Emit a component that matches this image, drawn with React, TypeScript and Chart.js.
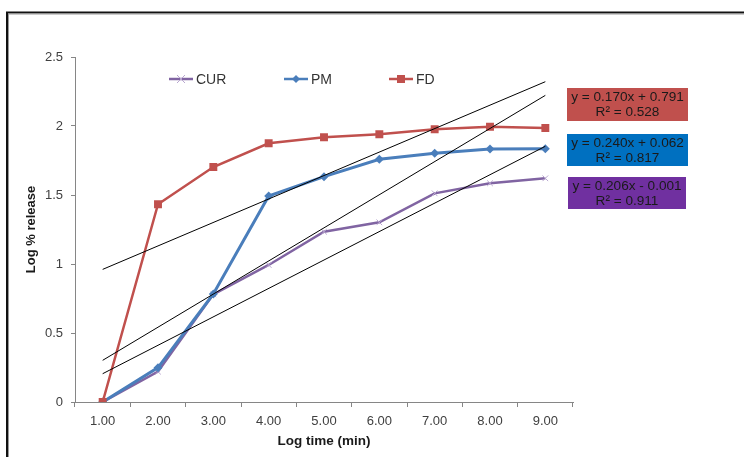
import React, { useEffect, useRef } from "react";
import { Chart, registerables } from "chart.js";

Chart.register(...registerables);

const categories = ["1.00", "2.00", "3.00", "4.00", "5.00", "6.00", "7.00", "8.00", "9.00"];
const curValues = [0, 0.22, 0.78, 0.993, 1.234, 1.302, 1.512, 1.585, 1.621];
const pmValues = [0, 0.249, 0.783, 1.493, 1.633, 1.759, 1.802, 1.833, 1.836];
const fdValues = [0, 1.433, 1.703, 1.875, 1.918, 1.94, 1.976, 1.995, 1.986];
// trendline end points (x = 1.00 and x = 9.00)
const fdTrend = [0.961, null, null, null, null, null, null, null, 2.321];
const pmTrend = [0.302, null, null, null, null, null, null, null, 2.222];
const curTrend = [0.205, null, null, null, null, null, null, null, 1.853];
const yTicks = [0, 0.5, 1, 1.5, 2, 2.5];
const seriesNames = ["CUR", "PM", "FD"];
const eqLines = [
  ["y = 0.170x + 0.791", "R² = 0.528"],
  ["y = 0.240x + 0.062", "R² = 0.817"],
  ["y = 0.206x - 0.001", "R² = 0.911"],
];

const FONT = "'Liberation Sans', Arial, sans-serif";
const RED = "#C0504D";
const BLUE = "#4A7EBB";
const PURPLE = "#8064A2";

export default function App() {
  const ref = useRef<HTMLCanvasElement | null>(null);
  useEffect(() => {
    const canvas = ref.current;
    if (!canvas) return;

    const overlay = {
      id: "overlay",
      afterDraw(chart: any) {
        const ctx = chart.ctx;
        ctx.save();
        // frame
        ctx.strokeStyle = "#111";
        ctx.lineWidth = 2;
        ctx.beginPath();
        ctx.moveTo(7, 458);
        ctx.lineTo(7, 12.5);
        ctx.lineTo(745, 12.5);
        ctx.stroke();
        ctx.strokeStyle = "#999";
        ctx.lineWidth = 1;
        ctx.beginPath();
        ctx.moveTo(8.5, 458);
        ctx.lineTo(8.5, 14);
        ctx.lineTo(745, 14);
        ctx.stroke();

        // legend
        const items = [
          { name: seriesNames[0], color: PURPLE, x: 169, marker: "x" },
          { name: seriesNames[1], color: BLUE, x: 284, marker: "d" },
          { name: seriesNames[2], color: RED, x: 389, marker: "s" },
        ];
        const ly = 79;
        items.forEach((it) => {
          ctx.strokeStyle = it.color;
          ctx.lineWidth = 2.5;
          ctx.beginPath();
          ctx.moveTo(it.x, ly);
          ctx.lineTo(it.x + 24, ly);
          ctx.stroke();
          const cx = it.x + 12;
          if (it.marker === "s") {
            ctx.fillStyle = it.color;
            ctx.fillRect(cx - 4, ly - 4, 8, 8);
          } else if (it.marker === "d") {
            ctx.fillStyle = it.color;
            ctx.beginPath();
            ctx.moveTo(cx, ly - 4);
            ctx.lineTo(cx + 4, ly);
            ctx.lineTo(cx, ly + 4);
            ctx.lineTo(cx - 4, ly);
            ctx.closePath();
            ctx.fill();
          } else {
            ctx.strokeStyle = "#B9A7D0";
            ctx.lineWidth = 1;
            ctx.beginPath();
            ctx.moveTo(cx - 4, ly - 4);
            ctx.lineTo(cx + 4, ly + 4);
            ctx.moveTo(cx + 4, ly - 4);
            ctx.lineTo(cx - 4, ly + 4);
            ctx.stroke();
          }
          ctx.fillStyle = "#333";
          ctx.font = `14px ${FONT}`;
          ctx.textAlign = "left";
          ctx.textBaseline = "middle";
          ctx.fillText(it.name, it.x + 27, ly + 1);
        });

        // equation boxes
        const boxes = [
          { color: "#C0504D", x: 567, y: 88, w: 121, h: 33, lines: eqLines[0] },
          { color: "#0070C0", x: 567, y: 134, w: 121, h: 32, lines: eqLines[1] },
          { color: "#7030A0", x: 568, y: 177, w: 118, h: 32, lines: eqLines[2] },
        ];
        boxes.forEach((b) => {
          ctx.fillStyle = b.color;
          ctx.fillRect(b.x, b.y, b.w, b.h);
          ctx.fillStyle = "#1a1a1a";
          ctx.font = `13.6px ${FONT}`;
          ctx.textAlign = "center";
          ctx.textBaseline = "middle";
          ctx.fillText(b.lines[0], b.x + b.w / 2, b.y + 9.5);
          ctx.fillText(b.lines[1], b.x + b.w / 2, b.y + 24);
        });
        ctx.restore();
      },
    };

    const trendDs = (data: (number | null)[]) => ({
      data,
      borderColor: "#000",
      borderWidth: 1,
      pointRadius: 0,
      spanGaps: true,
      fill: false,
    });

    const chart = new Chart(canvas, {
      type: "line",
      data: {
        labels: categories,
        datasets: [
          trendDs(fdTrend),
          trendDs(pmTrend),
          trendDs(curTrend),
          {
            label: "FD",
            data: fdValues,
            borderColor: RED,
            backgroundColor: RED,
            borderWidth: 2.5,
            pointStyle: "rect",
            pointRadius: 5.6,
            pointBorderWidth: 0,
            pointBackgroundColor: RED,
          },
          {
            label: "PM",
            data: pmValues,
            borderColor: BLUE,
            backgroundColor: BLUE,
            borderWidth: 3,
            pointStyle: "rectRot",
            pointRadius: 4.5,
            pointBorderWidth: 0,
            pointBackgroundColor: BLUE,
          },
          {
            label: "CUR",
            data: curValues,
            borderColor: PURPLE,
            backgroundColor: PURPLE,
            borderWidth: 2.5,
            pointStyle: "crossRot",
            pointRadius: 4,
            pointBorderWidth: 1,
            pointBorderColor: "#B9A7D0",
          },
        ] as any,
      },
      options: {
        responsive: false,
        animation: false,
        devicePixelRatio: 1,
        layout: { padding: { left: 20, right: 171, top: 57, bottom: 0 } },
        plugins: { legend: { display: false }, tooltip: { enabled: false } },
        scales: {
          x: {
            type: "category",
            offset: true,
            afterFit: (s: any) => {
              s.height = 55;
            },
            grid: {
              offset: true,
              drawOnChartArea: false,
              drawTicks: true,
              tickLength: 5,
              color: "#868686",
            },
            border: { color: "#868686", width: 1 },
            ticks: {
              color: "#404040",
              font: { family: FONT, size: 13 },
              padding: 7,
              maxRotation: 0,
              autoSkip: false,
            },
            title: {
              display: true,
              text: "Log time (min)",
              color: "#1a1a1a",
              font: { family: FONT, size: 13.5, weight: "bold" },
              padding: { top: 4, bottom: 8 },
            },
          },
          y: {
            min: yTicks[0],
            max: yTicks[yTicks.length - 1],
            afterFit: (s: any) => {
              s.width = 55;
            },
            afterBuildTicks: (s: any) => {
              s.ticks = yTicks.map((v) => ({ value: v }));
            },
            grid: {
              drawOnChartArea: false,
              drawTicks: true,
              tickLength: 4,
              color: "#868686",
            },
            border: { color: "#868686", width: 1 },
            ticks: {
              color: "#404040",
              font: { family: FONT, size: 13 },
              padding: 8,
              callback: (v: any) => String(v),
            },
            title: {
              display: true,
              text: "Log % release",
              color: "#1a1a1a",
              font: { family: FONT, size: 13, weight: "bold" },
              padding: { top: 4, bottom: 4 },
            },
          },
        },
      } as any,
      plugins: [overlay],
    });
    return () => chart.destroy();
  }, []);

  return (
    <div style={{ position: "absolute", left: 0, top: 0, width: 744, height: 457, background: "#fff" }}>
      <canvas ref={ref} width={744} height={457} style={{ display: "block" }} />
    </div>
  );
}
